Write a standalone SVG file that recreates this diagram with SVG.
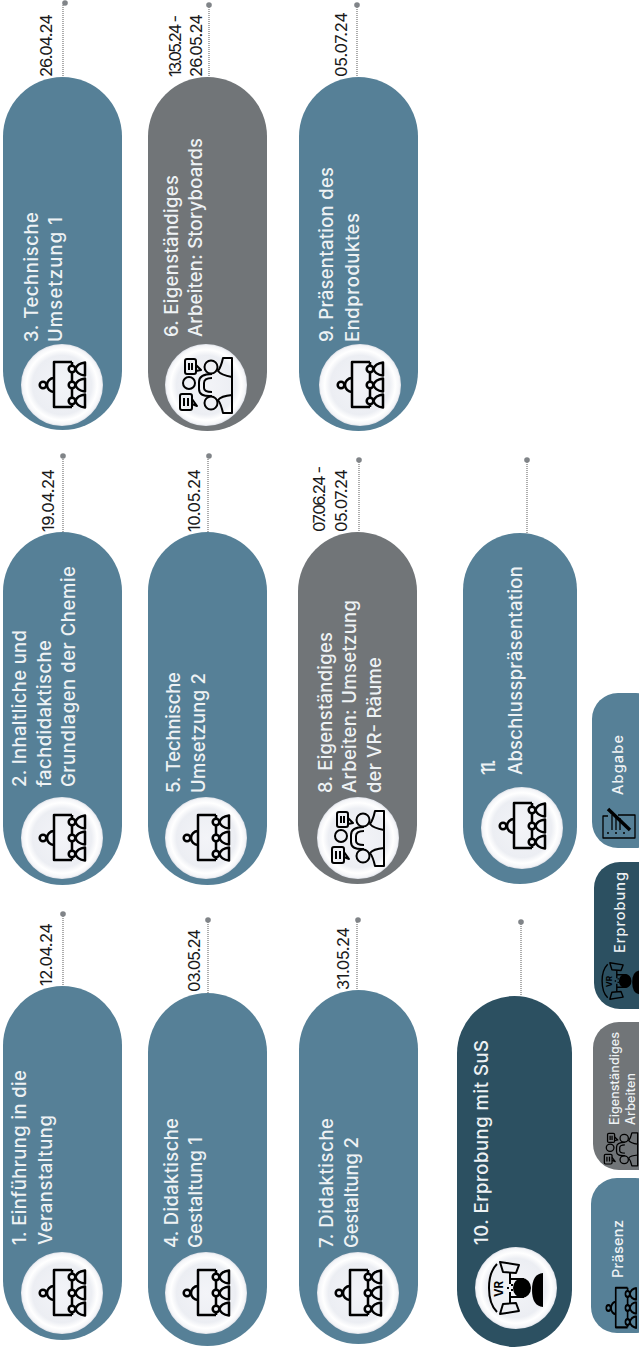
<svg xmlns="http://www.w3.org/2000/svg" xmlns:xlink="http://www.w3.org/1999/xlink" width="639" height="1348" viewBox="0 0 639 1348">
<style>
.teal{fill:#568097}.grey{fill:#717578}.dark{fill:#2c5061}
text{font-family:"Inter","Noto Sans","Liberation Sans",sans-serif}
.t{fill:#eef2f4;font-size:18.5px;font-weight:500}
.l{fill:#eef2f4;font-size:14.5px;font-weight:500}
.e{fill:#eef2f4;font-size:12.5px;font-weight:500}
.d{fill:#1a1a1a;font-size:16.5px}
.c{stroke:#8a8a8a;stroke-width:1.4;stroke-dasharray:1 1;fill:none}
.dot{fill:#808488}
.i{fill:none;stroke:#000;stroke-width:2.5;stroke-linejoin:round}
.w{fill:none;stroke:#000;stroke-width:2;stroke-linejoin:round}
.s{fill:#000;stroke:none}
</style>
<defs>
<radialGradient id="b"><stop offset="0" stop-color="#f3f4f8"/><stop offset=".72" stop-color="#eceef3"/><stop offset=".86" stop-color="#fff"/><stop offset=".96" stop-color="#f4f5f8"/><stop offset="1" stop-color="#dde0e7"/></radialGradient>
<g id="pres" class="i">
<path d="M10,-23H-8V22H10"/><path d="M-8,-7A7,7 0 0 0 -8,7"/><circle cx="-19" cy="0" r="3.3"/>
<circle cx="10" cy="-16" r="3.3"/><circle cx="10" cy="0" r="3.3"/><circle cx="10" cy="16" r="3.3"/>
<path d="M10,-23V-19M10,-13V-3M10,3V13M10,19V22"/>
<path d="M23,-22.5Q15,-21.5 13.5,-16Q15,-10.5 23,-9.5ZM23,-6.5Q15,-5.5 13.5,0Q15,5.5 23,6.5ZM23,9.5Q15,10.5 13.5,16Q15,21.5 23,22.5Z"/>
</g>
<g id="work" class="w">
<path d="M26,-27H17Q15,-18 12,-14Q15,-10 26,-8ZM26,28H17Q15,19 12,15Q15,11 26,10Z"/>
<path d="M26,-8V10"/>
<circle cx="5" cy="-18" r="6.5"/><circle cx="5" cy="18" r="6.5"/>
<path d="M6,-11Q-7,-11 -7,-3V4Q-7,12 6,11"/><path d="M6,-7Q-2,-7 -2,-2V3Q-2,7 6,7"/>
<circle cx="-17" cy="-2" r="6"/>
<rect x="-26" y="9" width="12" height="16" rx="2"/><path d="M-14,19L-9,21L-14,14M-22,13V21M-18,13V21"/>
<rect x="-21" y="-26" width="11" height="15" rx="2"/><path d="M-10,-20L-5,-15L-10,-14M-17,-22V-15M-14,-22V-15"/>
</g>
<g id="vr">
<path class="w" d="M-19,-24Q-27,-16 -27,0Q-27,16 -19,24"/>
<path class="w" d="M-16,-26L3,-23L0,-15L-13,-16ZM-16,26L3,23L0,15L-13,16Z"/>
<path class="w" d="M-6,-15V-4M-6,15V4"/>
<path class="w" d="M-6,-9H8M-6,9H8"/>
<ellipse class="s" cx="6" cy="0" rx="9" ry="10"/>
<path class="s" d="M27,-15Q16,-14 16,2Q16,18 27,19Z"/>
<path class="w" d="M-4,-4V-2M-4,1V3M-8,-1V1"/>
<text x="-13" y="9" transform="rotate(-90 -13 9)" style="font-size:11.5px;font-weight:700;fill:#000">VR</text>
</g>
</defs>
<g id="connectors">
<path class="c" d="M63,914V986M63,459V532M63,5V77M208,920V993M208,459V532M209,5V77M357,920V990M359,460V532M357,5V77M521,922V996M527,460V533"/>
<circle class="dot" cx="63" cy="914" r="2.8"/><circle class="dot" cx="63" cy="456" r="2.8"/><circle class="dot" cx="65" cy="3" r="2.8"/>
<circle class="dot" cx="208" cy="920" r="2.8"/><circle class="dot" cx="209" cy="456" r="2.8"/><circle class="dot" cx="209" cy="5" r="2.8"/>
<circle class="dot" cx="358" cy="920" r="2.8"/><circle class="dot" cx="359" cy="460" r="2.8"/><circle class="dot" cx="357" cy="5" r="2.8"/>
<circle class="dot" cx="521" cy="922" r="2.8"/><circle class="dot" cx="527" cy="460" r="2.8"/>
</g>
<g id="n1"><rect class="teal" x="3" y="986" width="119" height="354" rx="59.5"/><circle cx="62" cy="1293" r="41" fill="url(#b)"/><use xlink:href="#pres" href="#pres" x="62" y="1293"/>
<text class="t" transform="translate(26,1245) rotate(-90)" textLength="175">1. Einführung in die</text><text class="t" transform="translate(52,1245) rotate(-90)" textLength="130">Veranstaltung</text><text class="d" transform="translate(52,986) rotate(-90)" textLength="63">12.04.24</text></g>
<g id="n2"><rect class="teal" x="3" y="532" width="119" height="353" rx="59.5"/><circle cx="62" cy="838" r="41" fill="url(#b)"/><use xlink:href="#pres" href="#pres" x="62" y="838"/>
<text class="t" transform="translate(26,787) rotate(-90)" textLength="157">2. Inhaltliche und</text><text class="t" transform="translate(51,787) rotate(-90)" textLength="147">fachdidaktische</text><text class="t" transform="translate(75,787) rotate(-90)" textLength="221">Grundlagen der Chemie</text><text class="d" transform="translate(54,532) rotate(-90)" textLength="63">19.04.24</text></g>
<g id="n3"><rect class="teal" x="3" y="77" width="119" height="353" rx="59.5"/><circle cx="62" cy="385" r="41" fill="url(#b)"/><use xlink:href="#pres" href="#pres" x="62" y="385"/>
<text class="t" transform="translate(38,342) rotate(-90)" textLength="130">3. Technische</text><text class="t" transform="translate(62,342) rotate(-90)" textLength="125">Umsetzung 1</text><text class="d" transform="translate(52,77) rotate(-90)" textLength="63">26.04.24</text></g>
<g id="n4"><rect class="teal" x="148" y="993" width="119" height="353" rx="59.5"/><circle cx="206" cy="1293" r="41" fill="url(#b)"/><use xlink:href="#pres" href="#pres" x="206" y="1293"/>
<text class="t" transform="translate(178,1248) rotate(-90)" textLength="130">4. Didaktische</text><text class="t" transform="translate(202,1248) rotate(-90)" textLength="111">Gestaltung 1</text><text class="d" transform="translate(200,992) rotate(-90)" textLength="63">03.05.24</text></g>
<g id="n5"><rect class="teal" x="148" y="532" width="119" height="353" rx="59.5"/><circle cx="206" cy="838" r="41" fill="url(#b)"/><use xlink:href="#pres" href="#pres" x="206" y="838"/>
<text class="t" transform="translate(180,793) rotate(-90)" textLength="121">5. Technische</text><text class="t" transform="translate(205,793) rotate(-90)" textLength="120">Umsetzung 2</text><text class="d" transform="translate(200,532) rotate(-90)" textLength="63">10.05.24</text></g>
<g id="n6"><rect class="grey" x="148" y="77" width="119" height="354" rx="59.5"/><circle cx="206" cy="385" r="41" fill="url(#b)"/><use xlink:href="#work" href="#work" x="206" y="385"/>
<text class="t" transform="translate(178,337) rotate(-90)" textLength="162">6. Eigenständiges</text><text class="t" transform="translate(202,337) rotate(-90)" textLength="199">Arbeiten: Storyboards</text><text class="d" transform="translate(181,77) rotate(-90)" textLength="62">13.05.24 -</text><text class="d" transform="translate(202,77) rotate(-90)" textLength="63">26.05.24</text></g>
<g id="n7"><rect class="teal" x="299" y="990" width="119" height="354" rx="59.5"/><circle cx="358" cy="1293" r="41" fill="url(#b)"/><use xlink:href="#pres" href="#pres" x="358" y="1293"/>
<text class="t" transform="translate(333,1248) rotate(-90)" textLength="130">7. Didaktische</text><text class="t" transform="translate(358,1248) rotate(-90)" textLength="111">Gestaltung 2</text><text class="d" transform="translate(349,990) rotate(-90)" textLength="63">31.05.24</text></g>
<g id="n8"><rect class="grey" x="298" y="532" width="119" height="352" rx="59.5"/><circle cx="358" cy="838" r="41" fill="url(#b)"/><use xlink:href="#work" href="#work" x="358" y="838"/>
<text class="t" transform="translate(332,793) rotate(-90)" textLength="161">8. Eigenständiges</text><text class="t" transform="translate(356,793) rotate(-90)" textLength="193">Arbeiten: Umsetzung</text><text class="t" transform="translate(381,793) rotate(-90)" textLength="136">der VR- Räume</text><text class="d" transform="translate(325,532) rotate(-90)" textLength="66">07.06.24 -</text><text class="d" transform="translate(347,532) rotate(-90)" textLength="63">05.07.24</text></g>
<g id="n9"><rect class="teal" x="299" y="77" width="119" height="354" rx="59.5"/><circle cx="360" cy="385" r="41" fill="url(#b)"/><use xlink:href="#pres" href="#pres" x="360" y="385"/>
<text class="t" transform="translate(333,342) rotate(-90)" textLength="175">9. Präsentation des</text><text class="t" transform="translate(359,342) rotate(-90)" textLength="129">Endproduktes</text><text class="d" transform="translate(347,77) rotate(-90)" textLength="65">05.07.24</text></g>
<g id="n10"><rect class="dark" x="457" y="996" width="115" height="351" rx="57.5"/><circle cx="516" cy="1288" r="41" fill="url(#b)"/><use xlink:href="#vr" href="#vr" x="516" y="1288"/>
<text class="t" transform="translate(488,1245) rotate(-90)" textLength="205">10. Erprobung mit SuS</text></g>
<g id="n11"><rect class="teal" x="463" y="533" width="114" height="351" rx="57"/><circle cx="522" cy="828" r="41" fill="url(#b)"/><use xlink:href="#pres" href="#pres" x="522" y="826"/>
<text class="t" transform="translate(495,775) rotate(-90)" textLength="16">11.</text><text class="t" transform="translate(522,775) rotate(-90)" textLength="209">Abschlusspräsentation</text></g>
<g id="legend-praesenz"><rect class="teal" x="591" y="1178" width="70" height="155" rx="26"/><use xlink:href="#pres" href="#pres" transform="translate(621,1308) scale(.66,.88)"/><text class="l" transform="translate(623,1278) rotate(-90)" textLength="58">Präsenz</text></g>
<g id="legend-eigen"><rect class="grey" x="593" y="1022" width="70" height="148" rx="26"/><use xlink:href="#work" href="#work" transform="translate(621,1149) scale(.64,.6)"/><text class="e" transform="translate(619,1125) rotate(-90)" textLength="93">Eigenständiges</text><text class="e" transform="translate(635,1125) rotate(-90)" textLength="52">Arbeiten</text></g>
<g id="legend-erprobung"><rect class="dark" x="594" y="862" width="70" height="147" rx="26"/><use xlink:href="#vr" href="#vr" transform="translate(621,981) scale(.7)"/><text class="l" transform="translate(625,953) rotate(-90)" textLength="81">Erprobung</text></g>
<g id="legend-abgabe"><rect class="teal" x="592" y="693" width="70" height="155" rx="26"/><g class="w" style="stroke-width:1.3"><path d="M608,816H603V838H635V815H618"/><path d="M612,815V830M616,815V830M620,818V830M607,833H609M615,833H617M623,833H625"/></g><path d="M608,809L630,830" fill="none" stroke="#000" stroke-width="3.5"/><text class="l" transform="translate(623,795) rotate(-90)" textLength="60">Abgabe</text></g>
</svg>
